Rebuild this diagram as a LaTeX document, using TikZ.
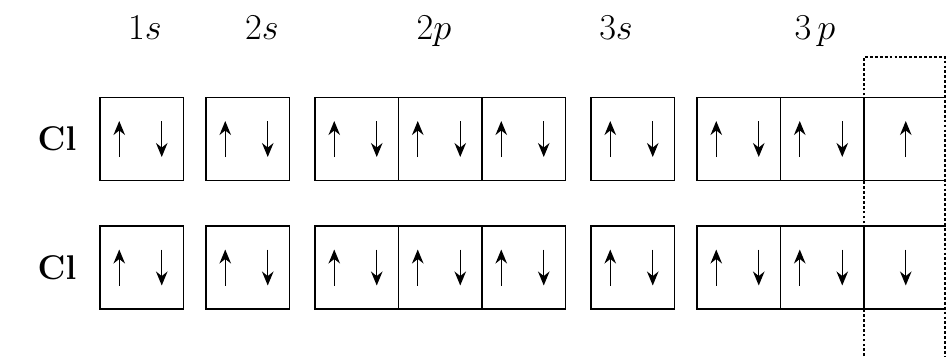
\documentclass[tikz,border=0pt]{standalone}
\usepackage{amsmath,amssymb}
\usepackage{tikz}
\usetikzlibrary{arrows.meta}

\tikzset{
  orb/.style={draw, line width=1.1pt, minimum width=1.67cm, minimum height=1.66cm, inner sep=0pt},
  spin/.style={line width=0.8pt, -{Stealth[length=2.8mm,width=2.3mm]}},
  shell/.style={anchor=base, font=\fontsize{21}{24}\selectfont},
  atom/.style={font=\fontsize{19.5}{23}\selectfont\bfseries}
}

\begin{document}
\begin{tikzpicture}
  \useasboundingbox (0,0) rectangle (18.92,7.12);
  \node[shell] at (2.90,6.34) (l1s) {$1s$};
  \node[shell] at (5.24,6.34) (l2s) {$2s$};
  \node[shell] at (8.68,6.34) (l2p) {$2p$};
  \node[shell] at (12.32,6.34) (l3s) {$3s$};
  \node[shell] at (16.30,6.34) (l3p) {$3\,p$};
  \node[atom] at (1.14,4.34) (cl1) {Cl};
  \node[atom] at (1.14,1.77) (cl2) {Cl};
  % orbital boxes, row 1 and row 2
  \foreach \r/\y in {1/4.34,2/1.77}
    \foreach \n/\x in {a/2.835,b/4.955,c/7.135,d/8.805,e/10.475,f/12.655,g/14.775,h/16.445,k/18.115}
      \node[orb] at (\x,\y) (\n\r) {};
  % paired spins
  \foreach \b in {a1,b1,c1,d1,e1,f1,g1,h1,a2,b2,c2,d2,e2,f2,g2,h2} {
    \draw[spin] ([shift={(-0.45,-0.36)}]\b.center) -- ++(0,0.72);
    \draw[spin] ([shift={(0.40,0.36)}]\b.center) -- ++(0,-0.72);
  }
  % unpaired 3p electrons
  \draw[spin] ([shift={(0,-0.36)}]k1.center) -- ++(0,0.72);
  \draw[spin] ([shift={(0,0.36)}]k2.center) -- ++(0,-0.72);
  % shared pair
  \draw[line width=0.8pt, dash pattern=on 1.6pt off 1.2pt] (17.28,-0.2) |- (18.90,5.98) -- (18.90,-0.2);
\end{tikzpicture}
\end{document}
